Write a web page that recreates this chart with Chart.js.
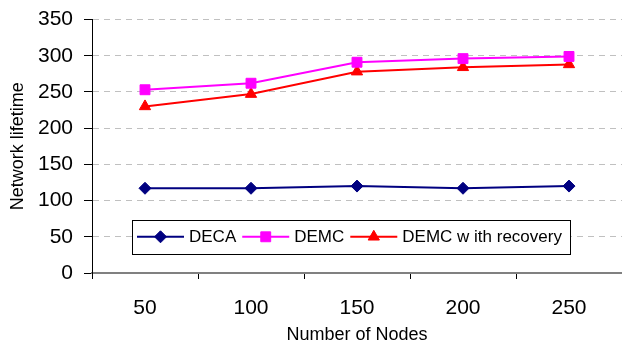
<!DOCTYPE html>
<html>
<head>
<meta charset="utf-8">
<script src="https://cdn.jsdelivr.net/npm/chart.js@4/dist/chart.umd.min.js"></script>
<style>
  html, body { margin: 0; padding: 0; background: #fff; }
  #lifetime-chart { display: block; }
</style>
</head>
<body>
<canvas id="lifetime-chart" width="622" height="347"></canvas>
<script>
const nodeCounts = ['50', '100', '150', '200', '250'];
const decaLifetime = [117, 117, 120, 117, 120];
const demcLifetime = [253, 262, 291, 296, 299];
const demcRecoveryLifetime = [230, 247, 278, 284, 288];
const lifetimeTicks = { min: 0, max: 350, step: 50 };

const FONT = '"Liberation Sans", Arial, sans-serif';

const seriesList = [
    { label: 'DECA', data: decaLifetime, color: '#000080', pointStyle: 'rectRot', radius: 6 },
    { label: 'DEMC', data: demcLifetime, color: '#FF00FF', pointStyle: 'rect', radius: 7 },
    { label: 'DEMC w ith recovery', data: demcRecoveryLifetime, color: '#FF0000', pointStyle: 'triangle', radius: 6.5 }
];

const drawMarker = (ctx, style, radius, x, y) => {
    if (Chart.helpers && Chart.helpers.drawPoint) {
        Chart.helpers.drawPoint(ctx, { pointStyle: style, radius, rotation: 0, borderWidth: 1 }, x, y);
        return;
    }
    ctx.beginPath();
    if (style === 'rectRot') {
        ctx.moveTo(x - radius, y); ctx.lineTo(x, y - radius); ctx.lineTo(x + radius, y); ctx.lineTo(x, y + radius);
    } else if (style === 'rect') {
        const s = radius * Math.SQRT1_2;
        ctx.rect(x - s, y - s, 2 * s, 2 * s);
    } else {
        ctx.moveTo(x, y - radius);
        ctx.lineTo(x + radius * 0.866, y + radius / 2);
        ctx.lineTo(x - radius * 0.866, y + radius / 2);
    }
    ctx.closePath();
    ctx.fill();
    ctx.stroke();
};

// boxed legend sitting inside the plot, centred on the 50 gridline
const insideLegend = {
    id: 'insideLegend',
    afterDatasetsDraw(chart) {
        const { ctx, chartArea, scales } = chart;
        const boxLeft = chartArea.left + 40;
        const boxWidth = 438;
        const boxHeight = 34;
        const midY = scales.y.getPixelForValue(50);
        const boxTop = midY - boxHeight / 2;

        ctx.save();
        ctx.fillStyle = '#fff';
        ctx.fillRect(boxLeft, boxTop, boxWidth, boxHeight);
        ctx.strokeStyle = '#000';
        ctx.lineWidth = 1;
        ctx.strokeRect(Math.round(boxLeft) + 0.5, Math.round(boxTop) + 0.5, boxWidth, boxHeight);

        ctx.font = '17px ' + FONT;
        ctx.textBaseline = 'middle';
        ctx.textAlign = 'left';
        let x = boxLeft + 5;
        seriesList.forEach(s => {
            ctx.strokeStyle = s.color;
            ctx.fillStyle = s.color;
            ctx.lineWidth = 2;
            ctx.beginPath();
            ctx.moveTo(x, midY);
            ctx.lineTo(x + 47, midY);
            ctx.stroke();
            ctx.lineWidth = 1;
            drawMarker(ctx, s.pointStyle, s.radius, x + 23.5, midY);
            ctx.fillStyle = '#000';
            ctx.fillText(s.label, x + 52, midY + 1);
            x += 52 + ctx.measureText(s.label).width + 6;
        });
        ctx.restore();
    }
};

new Chart(document.getElementById('lifetime-chart'), {
    type: 'line',
    data: {
        labels: nodeCounts,
        datasets: seriesList.map(s => ({
            label: s.label,
            data: s.data,
            borderColor: s.color,
            backgroundColor: s.color,
            borderWidth: 2,
            tension: 0,
            pointStyle: s.pointStyle,
            pointRadius: s.radius,
            pointHoverRadius: s.radius,
            pointBorderWidth: 1
        }))
    },
    options: {
        responsive: false,
        animation: false,
        devicePixelRatio: 1,
        layout: { autoPadding: false, padding: { top: 19.5, right: 0, bottom: 0, left: 0 } },
        plugins: {
            legend: { display: false },
            tooltip: { enabled: false }
        },
        scales: {
            x: {
                offset: true,
                afterFit: scale => {
                    scale.height = 74;
                    scale.paddingLeft = 0;
                    scale.paddingRight = 0;
                },
                grid: {
                    offset: true,
                    drawOnChartArea: false,
                    tickLength: 6,
                    tickColor: '#000',
                    tickWidth: 1
                },
                border: { color: '#808080', width: 2 },
                ticks: { color: '#000', font: { family: FONT, size: 21 }, padding: 17, maxRotation: 0 },
                title: {
                    display: true,
                    text: 'Number of Nodes',
                    color: '#000',
                    font: { family: FONT, size: 18 },
                    padding: { top: 0, bottom: 1 }
                }
            },
            y: {
                min: lifetimeTicks.min,
                max: lifetimeTicks.max,
                afterFit: scale => {
                    scale.width = 92;
                    scale.paddingTop = 0;
                    scale.paddingBottom = 0;
                },
                grid: {
                    color: ctx => (ctx.tick && ctx.tick.value === 0 ? 'rgba(0,0,0,0)' : '#C0C0C0'),
                    lineWidth: 1,
                    tickLength: 8,
                    tickColor: '#000',
                    tickBorderDash: []
                },
                border: { color: '#000', width: 1, dash: [6, 5] },
                ticks: {
                    stepSize: lifetimeTicks.step,
                    color: '#000',
                    font: { family: FONT, size: 21 },
                    padding: 11
                },
                title: {
                    display: true,
                    text: 'Network lifetime',
                    color: '#000',
                    font: { family: FONT, size: 18 },
                    padding: { top: 7, bottom: 0 }
                }
            }
        }
    },
    plugins: [insideLegend]
});
</script>
</body>
</html>
